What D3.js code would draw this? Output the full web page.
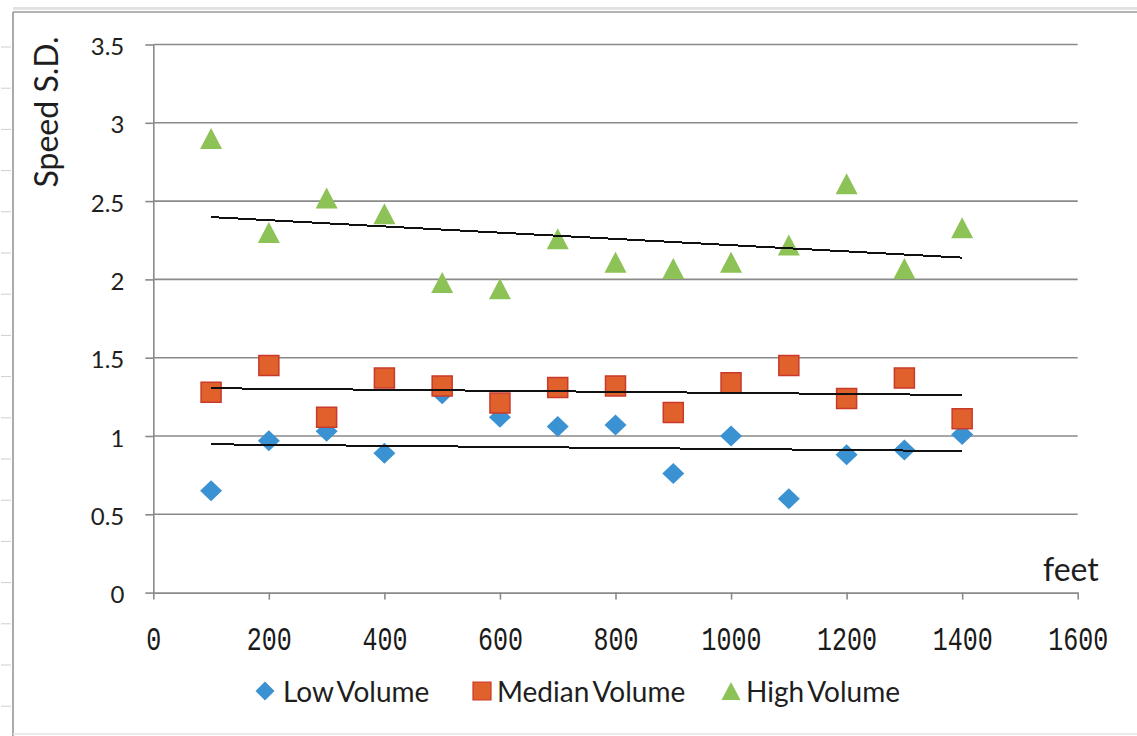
<!DOCTYPE html>
<html>
<head>
<meta charset="utf-8">
<script src="https://cdn.jsdelivr.net/npm/d3@7"></script>
<style>
  body { margin: 0; background: #fff; }
  svg { display: block; }
</style>
</head>
<body>
<svg id="chart" width="1137" height="736"></svg>
<script>
// Speed standard deviation by distance, three traffic volume levels
const distances = [100, 200, 300, 400, 500, 600, 700, 800, 900, 1000, 1100, 1200, 1300, 1400];
const lowVolume = [0.65, 0.97, 1.03, 0.89, 1.27, 1.12, 1.06, 1.07, 0.76, 1.00, 0.60, 0.88, 0.91, 1.01];
const medianVolume = [1.28, 1.45, 1.12, 1.37, 1.32, 1.21, 1.31, 1.32, 1.15, 1.34, 1.45, 1.24, 1.37, 1.11];
const highVolume = [2.90, 2.30, 2.52, 2.42, 1.98, 1.94, 2.26, 2.11, 2.07, 2.11, 2.22, 2.61, 2.07, 2.33];

// Linear trend lines: value at first and last distance
const trendLow = [0.947, 0.904];
const trendMedian = [1.305, 1.262];
const trendHigh = [2.398, 2.139];

const xTicks = [0, 200, 400, 600, 800, 1000, 1200, 1400, 1600];
const yTicks = [0, 0.5, 1, 1.5, 2, 2.5, 3, 3.5];
const seriesNames = ["Low Volume", "Median Volume", "High Volume"];

const svg = d3.select("#chart");
const W = 1137, H = 736;
const plot = { left: 153.3, right: 1077.7, top: 44.5, bottom: 592.6 };
const axisGrey = "#8a8a8a";
const textColor = "#1e1e1e";
const sansFont = "Lato, 'Open Sans', sans-serif";

const x = d3.scaleLinear().domain([0, 1600]).range([plot.left, plot.right]);
const y = d3.scaleLinear().domain([0, 3.5]).range([plot.bottom, plot.top]);

svg.append("rect").attr("width", W).attr("height", H).attr("fill", "#fff");

// Worksheet frame around the chart
const frame = svg.append("g");
frame.append("line").attr("x1", 13).attr("x2", W).attr("y1", 8.5).attr("y2", 8.5)
  .attr("stroke", "#e2e2e2").attr("stroke-width", 3);
frame.append("line").attr("x1", 13).attr("x2", W).attr("y1", 12).attr("y2", 12)
  .attr("stroke", "#9a9a9a").attr("stroke-width", 1.5);
frame.append("line").attr("x1", 13).attr("x2", 13).attr("y1", 12).attr("y2", H)
  .attr("stroke", "#8f8f8f").attr("stroke-width", 1.5);
frame.append("line").attr("x1", 13).attr("x2", W).attr("y1", 734).attr("y2", 734)
  .attr("stroke", "#e4e4e4").attr("stroke-width", 1.5);
frame.selectAll("line.row").data(d3.range(47, H, 41.2)).join("line")
  .attr("class", "row")
  .attr("x1", 1).attr("x2", 11).attr("y1", d => d).attr("y2", d => d)
  .attr("stroke", "#cfcfcf").attr("stroke-width", 1);

// Horizontal gridlines
svg.append("g").selectAll("line").data(yTicks.filter(v => v > 0)).join("line")
  .attr("x1", plot.left).attr("x2", plot.right)
  .attr("y1", d => y(d)).attr("y2", d => y(d))
  .attr("stroke", axisGrey).attr("stroke-width", 1.6);

// Y axis
const yAxis = svg.append("g")
  .attr("transform", `translate(${plot.left},0)`)
  .call(d3.axisLeft(y).tickValues(yTicks).tickSize(8).tickSizeOuter(0).tickPadding(21)
    .tickFormat(d => String(d)));
yAxis.select(".domain").attr("stroke", axisGrey).attr("stroke-width", 1.6);
yAxis.selectAll(".tick line").attr("stroke", axisGrey).attr("stroke-width", 1.6);
yAxis.selectAll(".tick text")
  .attr("fill", textColor).attr("dy", "0.42em")
  .style("font-family", sansFont).style("font-size", "24px");

// X axis (tall fixed-width digits)
const xLabelStretch = 1.3;
const xAxis = svg.append("g")
  .attr("transform", `translate(0,${plot.bottom})`)
  .call(d3.axisBottom(x).tickValues(xTicks).tickSize(7).tickSizeOuter(0)
    .tickFormat(d => String(d)));
xAxis.select(".domain").attr("stroke", axisGrey).attr("stroke-width", 1.6);
xAxis.selectAll(".tick line").attr("stroke", axisGrey).attr("stroke-width", 1.6);
xAxis.selectAll(".tick text")
  .attr("fill", "#1a1a1a").attr("y", 57 / xLabelStretch).attr("dy", 0)
  .attr("transform", `scale(1,${xLabelStretch})`)
  .style("font-family", "'Liberation Mono', 'DejaVu Sans Mono', monospace")
  .style("font-size", "25px");

// Axis titles
svg.append("text")
  .attr("transform", "translate(45,112) rotate(-90)")
  .attr("text-anchor", "middle").attr("dominant-baseline", "central")
  .attr("fill", textColor)
  .style("font-family", sansFont).style("font-size", "32px")
  .text("Speed S.D.");
svg.append("text")
  .attr("x", 1043).attr("y", 581)
  .attr("fill", textColor)
  .style("font-family", sansFont).style("font-size", "32px")
  .text("feet");

// Marker shapes
const diamond = (w, h) => `M0,${-h / 2}L${w / 2},0L0,${h / 2}L${-w / 2},0Z`;
const square = s => `M${-s / 2},${-s / 2}h${s}v${s}h${-s}Z`;
const triangle = (w, h) => `M0,${-h / 2}L${w / 2},${h / 2}L${-w / 2},${h / 2}Z`;

const styles = [
  { values: lowVolume, trend: trendLow, path: diamond(22, 21), fill: "#3b92d2", stroke: "none" },
  { values: medianVolume, trend: trendMedian, path: square(20), fill: "#e0612c", stroke: "#c93a2a" },
  { values: highVolume, trend: trendHigh, path: triangle(22, 21), fill: "#8dc257", stroke: "none" }
];

const markers = svg.append("g");
styles.forEach(s => {
  markers.append("g").selectAll("path")
    .data(distances.map((d, i) => [d, s.values[i]]))
    .join("path")
    .attr("d", s.path)
    .attr("transform", d => `translate(${x(d[0])},${y(d[1])})`)
    .attr("fill", s.fill)
    .attr("stroke", s.stroke).attr("stroke-width", 1.5);
});

// Trend lines drawn above the markers
const trendLine = d3.line().x(d => x(d[0])).y(d => y(d[1]));
styles.forEach(s => {
  svg.append("path")
    .attr("d", trendLine([[distances[0], s.trend[0]], [distances[distances.length - 1], s.trend[1]]]))
    .attr("fill", "none").attr("stroke", "#111").attr("stroke-width", 2)
    .attr("shape-rendering", "crispEdges");
});

// Legend
const legendY = 691;
const legendItems = [
  { mark: 265, text: 283, path: diamond(19, 19) },
  { mark: 482, text: 497, path: square(18) },
  { mark: 731, text: 746, path: triangle(19, 18) }
];
const legend = svg.append("g");
legendItems.forEach((item, i) => {
  legend.append("path")
    .attr("d", item.path)
    .attr("transform", `translate(${item.mark},${legendY})`)
    .attr("fill", styles[i].fill)
    .attr("stroke", styles[i].stroke).attr("stroke-width", 1.2);
  legend.append("text")
    .attr("x", item.text).attr("y", legendY)
    .attr("dominant-baseline", "central")
    .attr("fill", textColor)
    .style("font-family", sansFont).style("font-size", "28px")
    .style("word-spacing", "-3px")
    .text(seriesNames[i]);
});
</script>
</body>
</html>
